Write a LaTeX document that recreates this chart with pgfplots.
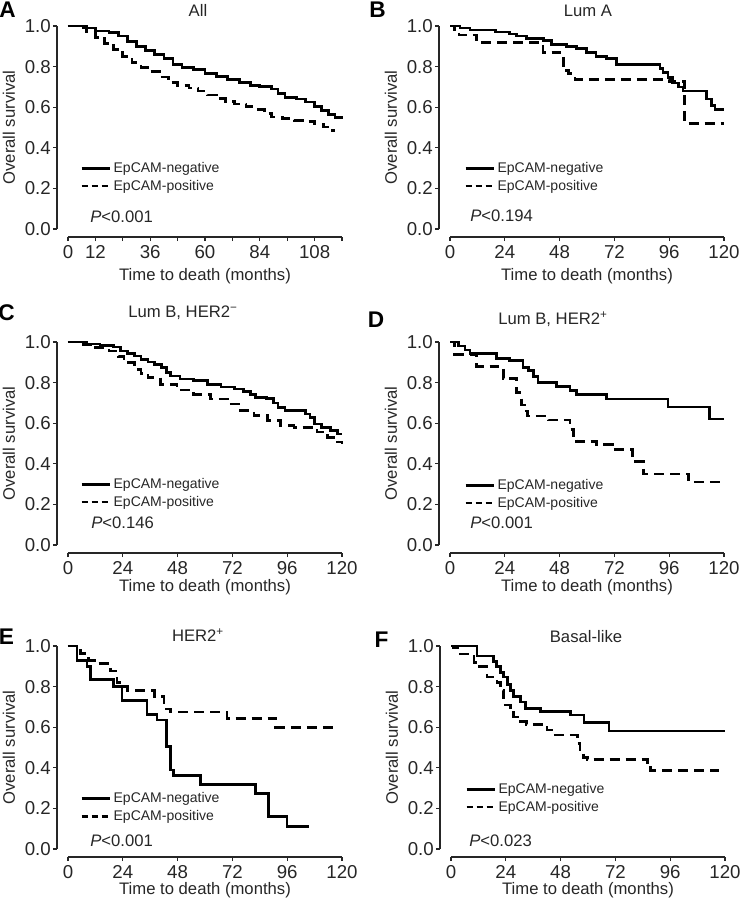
\documentclass[border=0pt]{standalone}
\usepackage{fontspec}
\setmainfont{Liberation Sans}
\usepackage{pgfplots}
\pgfplotsset{compat=1.18}

\pgfplotsset{
  km/.style={
    scale only axis, width=205.5pt, height=152.25pt,
    anchor=south west,
    xmin=0, xmax=120, ymin=0, ymax=1,
    axis x line=bottom, axis y line=left,
    axis x line shift=6pt, axis y line shift=8.25pt,
    axis line style={-, line width=1.1pt, black!85},
    tick align=outside, major tick length=3pt,
    tick style={line width=0.9pt, black!85},
    ytick={0,0.2,0.4,0.6,0.8,1}, yticklabels={0.0,0.2,0.4,0.6,0.8,1.0},
    xtick={0,24,48,72,96,120}, xticklabels={0,24,48,72,96,120},
    tick label style={font=\fontsize{14}{16}\selectfont, black!85},
    yticklabel style={inner sep=1.5pt},
    label style={font=\fontsize{12.5}{15}\selectfont, black!85},
    ylabel={Overall survival}, xlabel={Time to death (months)},
    ylabel style={at={(rel axis cs:-0.2153,0.5)}, anchor=center},
    clip=false,
    legend cell align=left,
    legend style={draw=none, fill=none, font=\fontsize{10.5}{12.5}\selectfont,
      anchor=north west, inner sep=0pt, row sep=0pt, text=black!85},
    legend image code/.code={\draw[#1] (0pt,0pt) -- (21pt,0pt);},
  },
  neg/.style={black, line width=2pt, const plot},
  pos/.style={black, line width=2pt, const plot, dash pattern=on 7.5pt off 4.5pt,
    legend image code/.code={\draw[##1, dash pattern=on 4.5pt off 3pt] (0pt,0pt) -- (21pt,0pt);}},
}

\begin{document}
\begin{tikzpicture}
\useasboundingbox (0,0) rectangle (555pt,-678pt);

% panel letters
\begin{scope}[every node/.style={font=\bfseries\fontsize{17}{19}\selectfont, inner sep=0pt}]
\node at (5.6pt,-7.1pt) {A};
\node at (283.1pt,-7.1pt) {B};
\node at (4.9pt,-234.4pt) {C};
\node at (282pt,-240pt) {D};
\node at (4.9pt,-477.4pt) {E};
\node at (286.1pt,-480pt) {F};
\end{scope}

% panel titles
\begin{scope}[every node/.style={font=\fontsize{12.5}{15}\selectfont, inner sep=0pt, text=black!85}]
\node at (148.5pt,-7.5pt) {All};
\node at (441pt,-8.25pt) {Lum A};
\node at (137.25pt,-234.75pt) {Lum B, HER2\textsuperscript{−}};
\node at (414.75pt,-239.25pt) {Lum B, HER2\textsuperscript{+}};
\node at (148.5pt,-476.25pt) {HER2\textsuperscript{+}};
\node at (439.5pt,-477.75pt) {Basal-like};
\end{scope}

% P values
\begin{scope}[every node/.style={font=\fontsize{12.5}{15}\selectfont, inner sep=0pt, anchor=west, text=black!85}]
\node at (67.5pt,-162.75pt) {\textit{P}<0.001};
\node at (352.5pt,-162pt) {\textit{P}<0.194};
\node at (68.25pt,-392.25pt) {\textit{P}<0.146};
\node at (352.5pt,-392.25pt) {\textit{P}<0.001};
\node at (67.5pt,-630.75pt) {\textit{P}<0.001};
\node at (351.75pt,-630.75pt) {\textit{P}<0.023};
\end{scope}

% A: All
\begin{axis}[km, at={(51pt,-171.75pt)},
  xtick={0,12,...,120}, xticklabels={0,12,,36,,60,,84,,108,},
  xlabel style={at={(rel axis cs:0.5,-0.2315)}, anchor=center},
  legend style={at={(0.044,0.342)}}]
\addplot[neg] table {
0 1.000
8 0.990
12 0.975
18 0.968
22 0.950
26 0.925
30 0.900
34 0.880
38 0.860
42 0.840
46 0.810
50 0.797
55 0.787
60 0.765
65 0.750
70 0.735
75 0.722
80 0.708
84 0.703
89 0.690
92 0.668
95 0.648
100 0.640
104 0.625
108 0.603
111 0.585
114 0.565
117 0.548
120 0.543
};
\addlegendentry{EpCAM-negative}
\addplot[pos] table {
0 1.000
4 0.990
8 0.970
12 0.945
16 0.915
20 0.885
24 0.850
28 0.820
32 0.797
36 0.777
40 0.748
44 0.722
48 0.708
53 0.695
57 0.680
61 0.660
65 0.642
69 0.628
73 0.615
78 0.602
82 0.590
86 0.570
89 0.552
94 0.545
99 0.535
104 0.530
108 0.518
112 0.502
115 0.485
116.5 0.478
};
\addlegendentry{EpCAM-positive}
\end{axis}

% B: Lum A
\begin{axis}[km, at={(337.5pt,-171.75pt)},
  xlabel style={at={(rel axis cs:0.5,-0.2315)}, anchor=center},
  legend style={at={(0.051,0.342)}}]
\addplot[neg] table {
0 1.0
4.4 0.99
8.7 0.98
20 0.97
26 0.96
29 0.95
33.5 0.94
41 0.93
44.5 0.91
51 0.90
55.4 0.89
59.8 0.87
64 0.85
68.5 0.84
73 0.81
92 0.79
93.3 0.77
95.5 0.745
97.5 0.72
100 0.70
102 0.68
112.3 0.64
114.5 0.61
116 0.59
120 0.59
};
\addlegendentry{EpCAM-negative}
\addplot[pos] table {
0 1.0
2 0.97
4 0.955
11.7 0.918
40.8 0.87
48 0.852
49.6 0.78
52 0.765
54.7 0.738
96 0.725
102.8 0.52
120 0.52
};
\addlegendentry{EpCAM-positive}
\end{axis}

% C: Lum B, HER2-
\begin{axis}[km, at={(51pt,-408.75pt)},
  xlabel style={at={(rel axis cs:0.5,-0.207)}, anchor=center},
  legend style={at={(0.044,0.342)}}]
\addplot[neg] table {
0 1.0
8 0.99
14 0.984
20 0.975
23 0.956
26 0.945
29 0.931
32 0.915
35 0.902
38 0.89
41 0.874
43 0.85
45 0.833
49 0.817
55 0.809
61 0.792
67 0.779
73 0.768
77 0.757
80 0.74
82 0.727
87 0.722
90 0.70
92 0.678
95 0.662
102 0.662
104 0.645
106 0.629
108 0.596
111 0.58
115 0.564
118 0.547
120 0.547
};
\addlegendentry{EpCAM-negative}
\addplot[pos] table {
0 1.0
5 0.989
11 0.972
18 0.956
22 0.93
24.5 0.899
29 0.866
32 0.845
35 0.825
40.5 0.792
47.8 0.763
55 0.743
62.5 0.719
70 0.694
75.6 0.662
81.5 0.637
87.3 0.613
93 0.588
99 0.58
109 0.556
113.7 0.531
118 0.507
120 0.50
};
\addlegendentry{EpCAM-positive}
\end{axis}

% D: Lum B, HER2+
\begin{axis}[km, at={(337.5pt,-408.75pt)},
  xlabel style={at={(rel axis cs:0.5,-0.207)}, anchor=center},
  legend style={at={(0.051,0.337)}}]
\addplot[neg] table {
0 1.0
3.6 0.98
6.6 0.96
8.7 0.945
20.4 0.92
26.2 0.91
32 0.875
34.3 0.86
36.5 0.83
38.6 0.80
46.7 0.78
52.5 0.76
55.4 0.74
68.5 0.72
95.5 0.68
113.7 0.62
120 0.62
};
\addlegendentry{EpCAM-negative}
\addplot[pos] table {
0 1.0
2 0.94
11.7 0.88
21 0.87
23.3 0.82
29.2 0.75
31.3 0.69
32.8 0.66
34 0.635
43 0.615
52.5 0.57
54 0.53
55.4 0.51
64.2 0.495
71.4 0.47
80 0.41
84.6 0.35
104.5 0.31
120 0.31
};
\addlegendentry{EpCAM-positive}
\end{axis}

% E: HER2+
\begin{axis}[km, at={(51pt,-636.75pt)},
  xlabel style={at={(rel axis cs:0.5,-0.202)}, anchor=center},
  legend style={at={(0.044,0.292)}}]
\addplot[neg] table {
0 1.0
3.9 0.93
8.3 0.90
9.8 0.835
20 0.80
23.7 0.733
34.6 0.664
39 0.635
43 0.504
44.8 0.39
46.3 0.362
58 0.319
82 0.275
87.9 0.16
95.9 0.111
105.4 0.111
};
\addlegendentry{EpCAM-negative}
\addplot[pos] table {
0 1.0
5.5 0.962
9 0.93
12.5 0.915
18.5 0.877
21.5 0.82
24 0.80
26 0.78
38 0.75
42 0.69
45 0.675
69.6 0.643
91 0.60
116.4 0.60
};
\addlegendentry{EpCAM-positive}
\end{axis}

% F: Basal-like
\begin{axis}[km, at={(338.25pt,-636.75pt)},
  xlabel style={at={(rel axis cs:0.5,-0.202)}, anchor=center},
  legend style={at={(0.051,0.337)}}]
\addplot[neg] table {
0 1.0
11.4 0.95
18.7 0.925
20 0.90
21.6 0.87
23 0.848
24.6 0.81
26 0.782
27.5 0.75
30.4 0.725
32.5 0.692
39.2 0.676
52.4 0.66
58.2 0.622
69.2 0.581
120 0.581
};
\addlegendentry{EpCAM-negative}
\addplot[pos] table {
0 1.0
1.2 0.99
4 0.96
10 0.92
12.5 0.90
15.8 0.848
20.2 0.82
21.6 0.782
23 0.709
26 0.69
27.5 0.65
29 0.627
33 0.615
42 0.586
44.3 0.561
55.3 0.52
56.5 0.48
58 0.45
59.7 0.442
86 0.41
87.5 0.386
117.5 0.386
};
\addlegendentry{EpCAM-positive}
\end{axis}
\end{tikzpicture}
\end{document}
